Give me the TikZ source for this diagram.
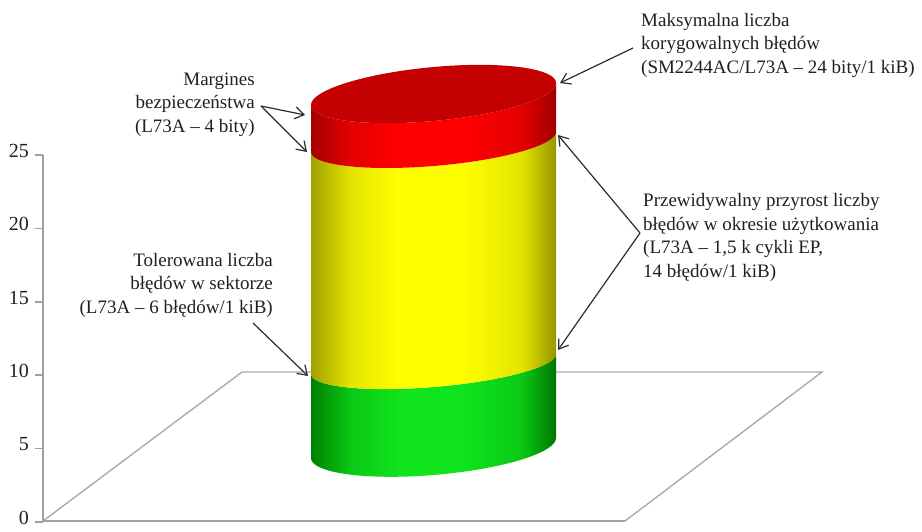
\documentclass[tikz,border=0pt]{standalone}
\usepackage{fontspec}
\setmainfont{Liberation Serif}
\usetikzlibrary{arrows.meta}

\definecolor{txt}{RGB}{35,31,32}
\definecolor{axisgray}{RGB}{160,160,160}
\definecolor{floorgray}{RGB}{170,170,170}
\definecolor{arrowgray}{RGB}{45,45,45}

\definecolor{redDark}{RGB}{165,0,0}
\definecolor{redMid}{RGB}{228,0,0}
\definecolor{redLight}{RGB}{255,0,0}
\definecolor{redDarkR}{RGB}{160,0,0}
\definecolor{redTop}{RGB}{196,0,0}

\definecolor{yelDark}{RGB}{160,160,0}
\definecolor{yelMid}{RGB}{228,228,0}
\definecolor{yelLight}{RGB}{255,255,0}
\definecolor{yelDarkR}{RGB}{150,150,0}

\definecolor{grnDark}{RGB}{0,128,0}
\definecolor{grnMid}{RGB}{10,200,20}
\definecolor{grnLight}{RGB}{16,228,28}
\definecolor{grnDarkR}{RGB}{0,118,0}

% horizontal shadings for the side of each band (inner 25bp..75bp spans the band)
\pgfdeclarehorizontalshading{redside}{100bp}{color(0bp)=(redDark); color(25bp)=(redDark); color(33bp)=(redMid); color(43bp)=(redLight); color(56bp)=(redLight); color(68bp)=(redMid); color(75bp)=(redDarkR); color(100bp)=(redDarkR)}
\pgfdeclarehorizontalshading{yelside}{100bp}{color(0bp)=(yelDark); color(25bp)=(yelDark); color(33bp)=(yelMid); color(43bp)=(yelLight); color(56bp)=(yelLight); color(68bp)=(yelMid); color(75bp)=(yelDarkR); color(100bp)=(yelDarkR)}
\pgfdeclarehorizontalshading{grnside}{100bp}{color(0bp)=(grnDark); color(25bp)=(grnDark); color(33bp)=(grnMid); color(43bp)=(grnLight); color(56bp)=(grnLight); color(68bp)=(grnMid); color(75bp)=(grnDarkR); color(100bp)=(grnDarkR)}

\begin{document}
\begin{tikzpicture}[x=1pt,y=-1pt,
  lbl/.style={font=\fontsize{19}{23.5}\selectfont, text=txt, inner sep=0pt},
  ticklbl/.style={font=\fontsize{20}{24}\selectfont, text=txt, inner sep=0pt, anchor=mid east},
  floorline/.style={draw=floorgray, line width=1.4pt},
  axisline/.style={draw=axisgray, line width=2.4pt},
  arr/.style={draw=arrowgray, line width=1.2pt, -{Straight Barb[length=9pt,width=12pt]}}
]
\useasboundingbox (0,0) rectangle (922,531);

% floor of the chart
\coordinate (fA) at (43,521);
\coordinate (fB) at (242,372);
\coordinate (fC) at (822,372);
\coordinate (fD) at (625,521);
\draw[floorline] (fA) -- (fB) -- (fC) -- (fD);
\draw[axisline] (fA) -- (fD);

% value axis with ticks
\coordinate (axTop) at (43,155);
\draw[axisline] (axTop) -- (fA);
\foreach \v/\yy in {0/521.7,5/448.3,10/375,15/301.7,20/228.3,25/155}{
  \draw[axisgray, line width=1.6pt] (35,\yy) -- (43,\yy);
  \node[ticklbl] (tick\v) at (29,\yy) {\v};
}

% cylinder: green band
\shade[shading=grnside] (311,374) -- (311,458)
  -- plot[domain=180:0,samples=90,variable=\t] ({433.5+122.5*cos(\t)},{448+27*sin(\t)-10*cos(\t)})
  -- (556,354)
  -- plot[domain=0:180,samples=90,variable=\t] ({433.5+122.5*cos(\t)},{364+23*sin(\t)-10*cos(\t)})
  -- cycle;
% yellow band
\shade[shading=yelside] (311,152) -- (311,374)
  -- plot[domain=180:0,samples=90,variable=\t] ({433.5+122.5*cos(\t)},{364+23*sin(\t)-10*cos(\t)})
  -- (556,132)
  -- plot[domain=0:180,samples=90,variable=\t] ({433.5+122.5*cos(\t)},{142+24*sin(\t)-10*cos(\t)})
  -- cycle;
% red band
\shade[shading=redside] (311,105) -- (311,152)
  -- plot[domain=180:0,samples=90,variable=\t] ({433.5+122.5*cos(\t)},{142+24*sin(\t)-10*cos(\t)})
  -- (556,83)
  -- plot[domain=0:180,samples=90,variable=\t] ({433.5+122.5*cos(\t)},{94+27*sin(\t)-11*cos(\t)})
  -- cycle;
% top face
\fill[redTop] plot[domain=0:360,samples=160,variable=\t] ({433.5+122.5*cos(\t)},{94+27*sin(\t)-11*cos(\t)}) -- cycle;

% labels (base anchor = baseline of the last line)
\node[lbl, align=left, anchor=base west] (maks) at (641,73)
  {Maksymalna liczba\\korygowalnych błędów\\(SM2244AC/L73A – 24 bity/1 kiB)};
\node[lbl, align=right, anchor=base east] (marg) at (255,132)
  {Margines\\bezpieczeństwa\\(L73A – 4 bity)};
\node[lbl, align=right, anchor=base east] (tol) at (273,313)
  {Tolerowana liczba\\błędów w sektorze\\(L73A – 6 błędów/1 kiB)};
\node[lbl, align=left, anchor=base west] (przy) at (643,277)
  {Przewidywalny przyrost liczby\\błędów w okresie użytkowania\\(L73A – 1,5 k cykli EP,\\14 błędów/1 kiB)};

% arrow ends
\coordinate (maksFrom) at (633,48);
\coordinate (maksTo) at (560,83);
\coordinate (margFrom) at (261,106);
\coordinate (margToA) at (305,115);
\coordinate (margToB) at (307,152);
\coordinate (przyFrom) at (640,233);
\coordinate (przyToA) at (558,135);
\coordinate (przyToB) at (558,350);
\coordinate (tolFrom) at (253,323);
\coordinate (tolTo) at (308,376);

\draw[arr] (maksFrom) -- (maksTo);
\draw[arr] (margFrom) -- (margToA);
\draw[arr] (margFrom) -- (margToB);
\draw[arr] (przyFrom) -- (przyToA);
\draw[arr] (przyFrom) -- (przyToB);
\draw[arr] (tolFrom) -- (tolTo);
\end{tikzpicture}
\end{document}
